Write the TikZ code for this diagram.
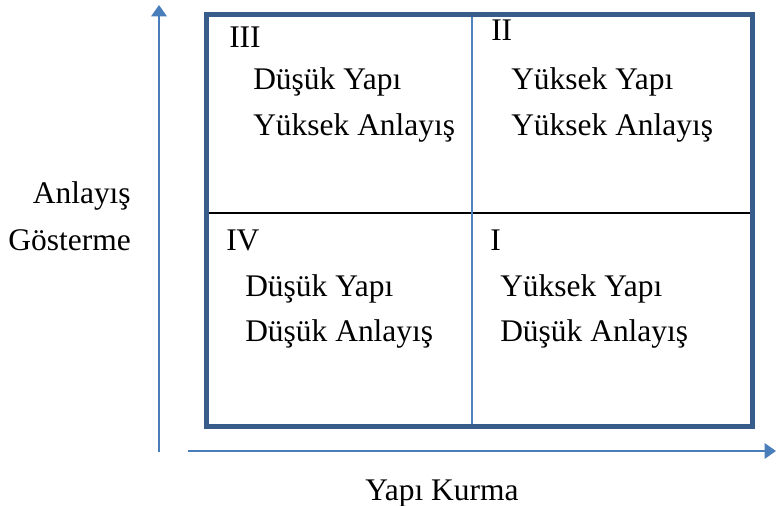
\documentclass[tikz,border=0pt]{standalone}
\usepackage{fontspec}
\setmainfont{Liberation Serif}
\usetikzlibrary{arrows.meta,positioning}
\definecolor{framecol}{HTML}{385D8A}
\definecolor{axiscol}{HTML}{4A7EBB}
\definecolor{splitcol}{HTML}{4F81BD}

\begin{document}
\begin{tikzpicture}[x=0.75pt,y=-0.75pt,font=\fontsize{23.6}{28}\selectfont,
  lbl/.style={anchor=base west,inner sep=0pt},
  axis/.style={draw=axiscol,line width=1.6pt,-{Triangle[length=8.5pt,width=11.5pt]}}]
\useasboundingbox (0,0) rectangle (776,506);
% axes
\coordinate (yorig) at (159,452); \coordinate (ytip) at (159,5);
\coordinate (xorig) at (188,451); \coordinate (xtip) at (776,451);
\draw[axis] (yorig) -- (ytip);
\draw[axis] (xorig) -- (xtip);
% frame and dividers
\coordinate (nw) at (206,15); \coordinate (se) at (752,427);
\coordinate (vtop) at (472,15); \coordinate (vbot) at (472,427);
\coordinate (hleft) at (206,213); \coordinate (hright) at (752,213);
\draw[black,line width=1.2pt] (hleft) -- (hright);
\draw[splitcol,line width=1.2pt] (vtop) -- (vbot);
\draw[framecol,line width=3.75pt] (nw) rectangle (se);
% quadrant III
\node[lbl] (q3num) at (229,48) {III};
\node[lbl] (q3a) at (253,90) {Düşük Yapı};
\node[lbl] (q3b) at (253,136) {Yüksek Anlayış};
% quadrant II
\node[lbl] (q2num) at (491,41) {II};
\node[lbl] (q2a) at (511,90) {Yüksek Yapı};
\node[lbl] (q2b) at (511,136) {Yüksek Anlayış};
% quadrant IV
\node[lbl] (q4num) at (226,251) {IV};
\node[lbl] (q4a) at (245,297) {Düşük Yapı};
\node[lbl] (q4b) at (245,342) {Düşük Anlayış};
% quadrant I
\node[lbl] (q1num) at (490,251) {I};
\node[lbl] (q1a) at (500,297) {Yüksek Yapı};
\node[lbl] (q1b) at (500,342) {Düşük Anlayış};
% axis titles
\node[anchor=base east,inner sep=0pt] (ytitlea) at (131,204) {Anlayış};
\node[anchor=base east,inner sep=0pt] (ytitleb) at (131,251) {Gösterme};
\node[anchor=base,inner sep=0pt] (xtitle) at (442,500) {Yapı Kurma};
\end{tikzpicture}
\end{document}
